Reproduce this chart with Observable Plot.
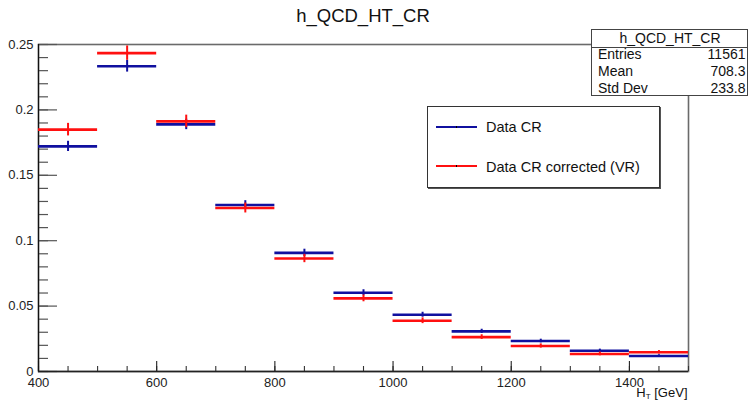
<!DOCTYPE html>
<html>
<head>
<meta charset="utf-8">
<script src="https://cdn.jsdelivr.net/npm/d3@7"></script>
<script src="https://cdn.jsdelivr.net/npm/@observablehq/plot@0.6"></script>
<style>
  body { margin: 0; background: #fff; }
  #wrap { position: relative; width: 750px; height: 401px; overflow: hidden;
          font-family: "Liberation Sans", Arial, Helvetica, sans-serif; color: #111; }
  .t { position: absolute; white-space: nowrap; }
  .box { position: absolute; background: #fff; box-sizing: border-box; }
</style>
</head>
<body>
<div id="wrap"></div>
<script>
// ---- data ----
const binLow  = [400, 500, 600, 700, 800, 900, 1000, 1100, 1200, 1300, 1400];
const binHigh = [500, 600, 700, 800, 900, 1000, 1100, 1200, 1300, 1400, 1500];
const dataCR      = [0.1721, 0.2334, 0.1889, 0.1273, 0.0907, 0.0602, 0.0434, 0.0307, 0.0233, 0.0159, 0.0118];
const dataCRErr   = [0.0039, 0.0045, 0.0040, 0.0033, 0.0028, 0.0023, 0.0019, 0.0016, 0.0014, 0.0012, 0.0010];
const dataCorr    = [0.1849, 0.2434, 0.1912, 0.1250, 0.0864, 0.0559, 0.0388, 0.0263, 0.0195, 0.0134, 0.0147];
const dataCorrErr = [0.0048, 0.0055, 0.0048, 0.0038, 0.0032, 0.0026, 0.0022, 0.0018, 0.0016, 0.0014, 0.0013];
const seriesNames = ["Data CR", "Data CR corrected (VR)"];
const yMajorTicks = [0, 0.05, 0.1, 0.15, 0.2, 0.25];
const yMinorTicks = [0, 0.01, 0.02, 0.03, 0.04, 0.05, 0.06, 0.07, 0.08, 0.09, 0.1, 0.11, 0.12, 0.13,
                     0.14, 0.15, 0.16, 0.17, 0.18, 0.19, 0.2, 0.21, 0.22, 0.23, 0.24, 0.25];
const xMajorTicks = [400, 600, 800, 1000, 1200, 1400];
const xMinorTicks = [400, 450, 500, 550, 600, 650, 700, 750, 800, 850, 900, 950, 1000, 1050,
                     1100, 1150, 1200, 1250, 1300, 1350, 1400, 1450, 1500];
const statsTitle = "h_QCD_HT_CR";
const statsNames = ["Entries", "Mean", "Std Dev"];
const statsValues = ["11561", "708.3", "233.8"];

// ---- layout ----
const W = 750, H = 401, mL = 38, mR = 62, mT = 44, mB = 30;
const fw = W - mL - mR, fh = H - mT - mB;
const BLUE = "#10109f", RED = "#ff1010";

const rows = binLow.map((lo, i) => ({
  lo, hi: binHigh[i], mid: (lo + binHigh[i]) / 2,
  cr: dataCR[i], crErr: dataCRErr[i], corr: dataCorr[i], corrErr: dataCorrErr[i]
}));

const chart = Plot.plot({
  width: W, height: H,
  marginLeft: mL, marginRight: mR, marginTop: mT, marginBottom: mB,
  style: { fontFamily: '"Liberation Sans", Arial, Helvetica, sans-serif', fontSize: "13px", color: "#222", background: "#fff" },
  x: { domain: [400, 1500] },
  y: { domain: [0, 0.25] },
  marks: [
    Plot.frame({ stroke: "#6a6a6a", strokeWidth: 1.6 }),
    Plot.tickY(yMinorTicks, { y: d => d, insetRight: fw - 10, stroke: "#555", strokeWidth: 1.2 }),
    Plot.tickY(yMajorTicks, { y: d => d, insetRight: fw - 19, stroke: "#555", strokeWidth: 1.2 }),
    Plot.tickX(xMinorTicks, { x: d => d, insetTop: fh - 5, stroke: "#333", strokeWidth: 1.1 }),
    Plot.tickX(xMajorTicks, { x: d => d, insetTop: fh - 10, stroke: "#222", strokeWidth: 1.1 }),
    Plot.ruleX([400], { stroke: "#111", strokeWidth: 1.2 }),
    Plot.ruleY([0], { stroke: "#222", strokeWidth: 1.4 }),
    // Data CR
    Plot.ruleY(rows, { y: "cr", x1: "lo", x2: "hi", stroke: BLUE, strokeWidth: 2.6 }),
    Plot.ruleX(rows, { x: "mid", y1: d => d.cr - d.crErr, y2: d => d.cr + d.crErr, stroke: BLUE, strokeWidth: 2 }),
    // Data CR corrected (VR)
    Plot.ruleY(rows, { y: "corr", x1: "lo", x2: "hi", stroke: RED, strokeWidth: 2.6 }),
    Plot.ruleX(rows, { x: "mid", y1: d => d.corr - d.corrErr, y2: d => d.corr + d.corrErr, stroke: RED, strokeWidth: 2 }),
    Plot.axisY({ ticks: yMajorTicks, tickSize: 0, tickPadding: 5, tickFormat: d => String(d), label: null, fontSize: 13 }),
    Plot.axisX({ ticks: xMajorTicks, tickSize: 0, tickPadding: 6, tickFormat: d => String(d), label: null, fontSize: 13 })
  ]
});
const wrap = document.getElementById("wrap");
chart.style.position = "absolute";
chart.style.left = "0px";
chart.style.top = "0px";
wrap.appendChild(chart);

// ---- overlays (title, stats box, legend, axis label) ----
function text(str, { left, right, top, fs, center, html }) {
  const d = document.createElement("div");
  d.className = "t";
  d.style.fontSize = fs + "px";
  d.style.lineHeight = fs + "px";
  d.style.top = top + "px";
  if (center !== undefined) { d.style.left = center + "px"; d.style.transform = "translateX(-50%)"; }
  else if (right !== undefined) d.style.right = right + "px";
  else d.style.left = left + "px";
  if (html) d.innerHTML = str; else d.textContent = str;
  wrap.appendChild(d);
  return d;
}
function box(l, t, w, h, extra) {
  const d = document.createElement("div");
  d.className = "box";
  Object.assign(d.style, { left: l + "px", top: t + "px", width: w + "px", height: h + "px" }, extra || {});
  wrap.appendChild(d);
  return d;
}

// title
text(statsTitle, { center: 363, top: 7, fs: 18.5 });

// stats box
box(591, 29, 157, 67, { border: "1px solid #444" });
box(591, 46.5, 157, 1, { background: "#444" });
text(statsTitle, { center: 670, top: 31, fs: 14 });
statsNames.forEach((n, i) => {
  const top = [46.5, 64.2, 80.9][i];
  text(n, { left: 598, top, fs: 14 });
  text(statsValues[i], { right: 4.5, top, fs: 14 });
});

// legend
box(427, 106, 233, 82, { border: "1px solid #333", boxShadow: "1px 1px 0 #555" });
box(436, 125.7, 41, 2.2, { background: BLUE });
box(436, 165, 41, 2.2, { background: RED });
box(456, 125.7, 1, 2.2, { background: "#000" });
box(456, 165, 1, 2.2, { background: "#000" });
text(seriesNames[0], { left: 486, top: 120, fs: 14.5 });
text(seriesNames[1], { left: 486, top: 160, fs: 14.5 });

// x-axis label
text('H<sub style="font-size:8px;vertical-align:-2px;line-height:0">T</sub> [GeV]', { right: 62.5, top: 386, fs: 13, html: true });
</script>
</body>
</html>
